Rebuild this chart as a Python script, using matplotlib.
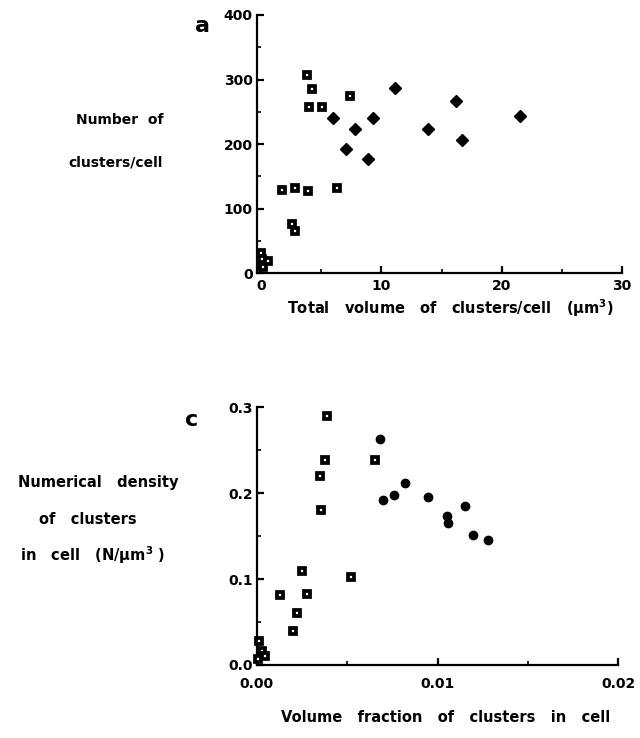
import matplotlib
matplotlib.use("Agg")
import matplotlib.pyplot as plt
from matplotlib.ticker import MultipleLocator, FixedLocator

plt.rcParams['font.family'] = ['DejaVu Sans']
plt.rcParams['font.weight'] = 'bold'

# Panel a: total volume of clusters/cell vs number of clusters/cell
a_sq_x = [3.77, 4.19, 3.94, 5.02, 7.42, 1.75, 2.78, 3.91, 6.34, 2.53, 2.78, 0.0, 0.04, 0.6, 0.0, 0.12]
a_sq_y = [307, 285, 258, 258, 274, 129, 132, 127, 132, 77, 66, 32, 22, 19, 11, 10]
a_dm_x = [5.99, 7.09, 7.78, 8.89, 9.30, 11.1, 13.87, 16.17, 16.72, 21.53]
a_dm_y = [240, 193, 224, 177, 240, 287, 224, 267, 206, 243]

# Panel c: volume fraction vs numerical density
c_sq_x = [0.00387, 0.00379, 0.00348, 0.00357, 0.00652, 0.00523, 0.00249, 0.00131, 0.00278,
          0.00225, 0.00203, 0.00015, 0.00030, 0.00048, 0.00005]
c_sq_y = [0.290, 0.239, 0.220, 0.180, 0.239, 0.103, 0.109, 0.082, 0.083,
          0.060, 0.040, 0.028, 0.016, 0.011, 0.007]
c_ci_x = [0.00680, 0.00696, 0.00759, 0.00821, 0.00950, 0.01050, 0.01059, 0.01151, 0.01197, 0.01278]
c_ci_y = [0.263, 0.192, 0.198, 0.212, 0.196, 0.173, 0.165, 0.185, 0.151, 0.146]

a_yticks = [0, 100, 200, 300, 400]
a_xticks = [0, 10, 20, 30]
c_yticks = [0.0, 0.1, 0.2, 0.3]
c_xticks = [0.00, 0.01, 0.02]

W, H = 640, 738
fig = plt.figure(figsize=(W / 100, H / 100), dpi=100)

def style(ax, xpad=3):
    for s in ['top', 'right']:
        ax.spines[s].set_visible(False)
    for s in ['left', 'bottom']:
        ax.spines[s].set_linewidth(1.6)
    ax.tick_params(which='major', direction='in', length=5, width=1.6, labelsize=10, pad=3)
    ax.tick_params(axis='x', which='major', pad=xpad)
    ax.tick_params(which='minor', direction='in', length=3, width=1.2)
    for lab in ax.get_xticklabels() + ax.get_yticklabels():
        lab.set_fontweight('bold')

def sq(ax, x, y):
    ax.plot(x, y, ls='none', marker='s', ms=3.8, mew=2.7, mec='black', mfc='white', clip_on=False, zorder=3)

# Top panel
ax1 = fig.add_axes([257 / W, 1 - 273.3 / H, 365 / W, 258.3 / H])
ax1.set_xlim(-0.35, 30)
ax1.set_ylim(0, 400)
ax1.xaxis.set_major_locator(FixedLocator(a_xticks))
ax1.xaxis.set_minor_locator(MultipleLocator(5))
ax1.yaxis.set_major_locator(FixedLocator(a_yticks))
ax1.yaxis.set_minor_locator(MultipleLocator(50))
sq(ax1, a_sq_x, a_sq_y)
ax1.plot(a_dm_x, a_dm_y, ls='none', marker='D', ms=5.8, color='black', clip_on=False, zorder=3)
ax1.set_xticklabels([str(v) for v in a_xticks])
ax1.set_yticklabels([str(v) for v in a_yticks])
style(ax1, xpad=4)

# Bottom panel
ax2 = fig.add_axes([256.7 / W, 1 - 665 / H, 361.6 / W, 257.7 / H])
ax2.set_xlim(0, 0.02)
ax2.set_ylim(0, 0.3)
ax2.xaxis.set_major_locator(FixedLocator(c_xticks))
ax2.xaxis.set_minor_locator(MultipleLocator(0.005))
ax2.yaxis.set_major_locator(FixedLocator(c_yticks))
ax2.yaxis.set_minor_locator(MultipleLocator(0.05))
sq(ax2, c_sq_x, c_sq_y)
ax2.plot(c_ci_x, c_ci_y, ls='none', marker='o', ms=6.0, color='black', clip_on=False, zorder=3)
ax2.set_xticklabels(['%.2f' % v for v in c_xticks])
ax2.set_yticklabels(['%.1f' % v for v in c_yticks])
style(ax2, xpad=9)

def ftext(x, y, s, size=10, **kw):
    fig.text(x / W, 1 - y / H, s, ha='center', va='center', fontsize=size, fontweight='bold', **kw)

ftext(202, 26, 'a', size=16)
ftext(192, 420, 'c', size=16)
ftext(120, 120, 'Number  of')
ftext(116, 163, 'clusters/cell')
ftext(450, 308, r'Total   volume   of   clusters/cell   (μm$^{\mathbf{3}}$)', size=10.5)
ftext(98, 483, 'Numerical   density', size=10.5)
ftext(88, 519, 'of   clusters', size=10.5)
ftext(93, 555, r'in   cell   (N/μm$^{\mathbf{3}}$ )', size=10.5)
ftext(446, 718, 'Volume   fraction   of   clusters   in   cell', size=10.5)

fig.savefig('out.png', dpi=100)
